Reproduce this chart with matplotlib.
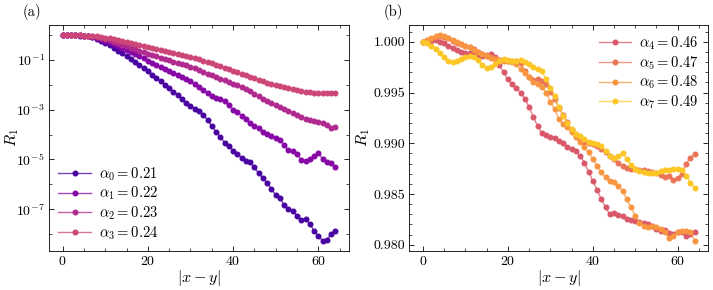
import numpy as np
import matplotlib
matplotlib.use("Agg")
import matplotlib.pyplot as plt
from matplotlib.ticker import FixedLocator, MultipleLocator, FormatStrFormatter, NullFormatter

plt.rcParams['font.family'] = 'serif'
plt.rcParams['font.serif'] = ['cmr10', 'DejaVu Serif']
plt.rcParams['mathtext.fontset'] = 'cm'
plt.rcParams['axes.formatter.use_mathtext'] = True
plt.rcParams['axes.unicode_minus'] = False

x = np.arange(65)

# panel (a): log10 of R_1
alpha_a = [0.21, 0.22, 0.23, 0.24]
log_a0 = [0, 0, 0, -0.005, -0.01, -0.02, -0.04, -0.08, -0.14, -0.22, -0.31, -0.41, -0.52, -0.62, -0.73,
          -0.85, -0.96, -1.08, -1.2, -1.32, -1.45, -1.58, -1.72, -1.85, -2.0, -2.14, -2.27, -2.4, -2.58, -2.74,
          -2.85, -2.95, -3.05, -3.19, -3.41, -3.65, -3.88, -4.09, -4.32, -4.45, -4.64, -4.79, -4.92, -5.05, -5.12,
          -5.32, -5.56, -5.75, -5.95, -6.19, -6.43, -6.56, -6.83, -7.0, -7.08, -7.26, -7.42, -7.39, -7.59, -7.86,
          -8.08, -8.27, -8.24, -7.99, -7.86]
log_a1 = [0, 0, 0, 0, -0.005, -0.01, -0.03, -0.06, -0.1, -0.15, -0.22, -0.29, -0.37, -0.45, -0.53,
          -0.61, -0.69, -0.77, -0.85, -0.93, -1.02, -1.1, -1.18, -1.26, -1.34, -1.42, -1.5, -1.58, -1.66, -1.76,
          -1.86, -1.97, -2.08, -2.2, -2.33, -2.45, -2.52, -2.56, -2.65, -2.82, -3.0, -3.1, -3.23, -3.36, -3.52,
          -3.66, -3.75, -3.9, -3.99, -4.06, -4.12, -4.22, -4.43, -4.62, -4.66, -4.79, -5.02, -5.08, -4.99, -4.86,
          -4.72, -4.99, -5.12, -5.16, -5.32]
log_a2 = [0, 0, 0, 0, -0.005, -0.01, -0.02, -0.04, -0.07, -0.1, -0.15, -0.2, -0.26, -0.32, -0.38,
          -0.44, -0.5, -0.56, -0.62, -0.68, -0.74, -0.79, -0.85, -0.9, -0.96, -1.01, -1.06, -1.11, -1.16, -1.21,
          -1.27, -1.33, -1.4, -1.47, -1.54, -1.6, -1.67, -1.74, -1.81, -1.88, -1.95, -2.02, -2.09, -2.17, -2.26,
          -2.36, -2.46, -2.55, -2.64, -2.72, -2.8, -2.88, -2.96, -3.05, -3.14, -3.22, -3.3, -3.37, -3.43, -3.47,
          -3.5, -3.55, -3.63, -3.72, -3.7]
log_a3 = [0, 0, 0, 0, -0.005, -0.01, -0.015, -0.02, -0.04, -0.06, -0.09, -0.12, -0.15, -0.18, -0.22,
          -0.26, -0.3, -0.34, -0.38, -0.42, -0.46, -0.5, -0.54, -0.58, -0.62, -0.66, -0.7, -0.74, -0.78, -0.82,
          -0.87, -0.92, -0.97, -1.02, -1.08, -1.13, -1.19, -1.25, -1.31, -1.37, -1.43, -1.49, -1.55, -1.61, -1.67,
          -1.73, -1.79, -1.85, -1.91, -1.96, -2.01, -2.06, -2.1, -2.14, -2.18, -2.21, -2.24, -2.27, -2.29, -2.31,
          -2.32, -2.33, -2.33, -2.32, -2.32]

# panel (b): 1000*(1 - R_1)
alpha_b = [0.46, 0.47, 0.48, 0.49]
d_b4 = [0, 0.0, -0.1, -0.15, 0.0, 0.15, 0.4, 0.65, 0.8, 0.95, 1.05, 1.1, 1.2, 1.3, 1.35,
        1.35, 1.2, 1.5, 2.3, 3.0, 3.7, 4.2, 4.5, 5.0, 5.6, 6.4, 7.4, 8.3, 9.0, 9.2,
        9.35, 9.5, 9.75, 10.0, 10.4, 10.6, 10.75, 11.2, 11.9, 12.8, 13.7, 14.6, 15.5, 16.3, 17.0,
        16.9, 17.1, 17.2, 17.5, 17.6, 17.7, 17.8, 17.85, 17.95, 18.1, 18.4, 18.6, 18.5, 18.85, 18.9,
        18.75, 18.75, 19.1, 18.9, 18.7]
d_b5 = [0, -0.15, -0.3, -0.5, -0.6, -0.5, -0.35, -0.1, 0.1, 0.25, 0.4, 0.55, 0.75, 0.95, 1.15,
        1.3, 1.45, 1.6, 1.75, 1.8, 1.85, 1.85, 1.85, 2.1, 2.85, 3.5, 3.8, 3.7, 3.85, 4.2,
        4.9, 5.6, 6.5, 7.2, 7.9, 8.7, 9.3, 9.7, 9.9, 10.0, 10.1, 10.25, 10.6, 10.9, 11.2,
        11.5, 11.9, 12.2, 12.4, 12.5, 12.55, 12.6, 12.65, 12.75, 12.85, 12.95, 13.15, 13.3, 13.25, 13.6,
        13.45, 13.0, 12.0, 11.4, 11.1]
d_b6 = [0, -0.2, -0.4, -0.55, -0.65, -0.55, -0.4, -0.2, 0.0, 0.2, 0.4, 0.55, 0.8, 1.0, 1.2,
        1.35, 1.55, 1.65, 1.75, 1.85, 1.9, 1.95, 2.2, 2.7, 3.1, 3.5, 4.0, 4.2, 4.4, 5.0,
        5.9, 6.6, 7.6, 8.1, 8.4, 8.9, 9.4, 9.9, 10.4, 10.9, 11.5, 12.2, 12.85, 13.35, 13.7,
        13.85, 14.2, 14.7, 15.5, 16.3, 17.15, 17.85, 18.1, 18.2, 18.1, 18.2, 18.45, 18.75, 19.35, 19.15,
        18.75, 18.65, 18.65, 18.75, 19.6]
d_b7 = [0, 0.15, 0.4, 0.7, 1.1, 1.5, 1.85, 2.0, 1.9, 1.7, 1.5, 1.42, 1.45, 1.8, 2.3,
        2.55, 2.5, 2.2, 1.9, 1.72, 1.78, 1.85, 1.85, 1.8, 2.0, 2.2, 2.5, 2.7, 2.85, 3.7,
        4.5, 5.3, 6.4, 7.3, 8.0, 8.6, 9.1, 9.3, 9.6, 9.85, 10.0, 10.1, 10.3, 10.8, 11.2,
        11.4, 11.2, 11.0, 11.5, 12.1, 12.5, 12.75, 12.85, 12.9, 12.95, 12.95, 12.7, 12.6, 12.6, 12.5,
        12.5, 12.65, 13.2, 13.9, 14.4]

cmap = plt.get_cmap('plasma')
cvals = [0.12, 0.28, 0.4, 0.5, 0.56, 0.65, 0.75, 0.88]
colors = [cmap(v) for v in cvals]

fig = plt.figure(figsize=(7.13, 2.9), dpi=100)
axA = fig.add_axes([49/713, 39/290, 300/713, 226/290])
axB = fig.add_axes([409.3/713, 39/290, 299/713, 226/290])

def style(ax):
    ax.tick_params(which='both', direction='in', top=True, right=True, labelsize=10, pad=3)
    ax.tick_params(which='major', length=3.5, width=0.6)
    ax.tick_params(which='minor', length=2, width=0.5)
    for s in ax.spines.values():
        s.set_linewidth(0.6)
    ax.xaxis.set_major_locator(MultipleLocator(20))
    ax.xaxis.set_minor_locator(MultipleLocator(5))

for i, (a, lg) in enumerate(zip(alpha_a, [log_a0, log_a1, log_a2, log_a3])):
    c = colors[i]
    axA.plot(x, 10.0 ** np.array(lg), '-o', color=(c[0], c[1], c[2], 0.75), mfc=c, mec=c,
             ms=3.3, lw=1.0, label=r'$\alpha_{%d} = %.2f$' % (i, a))
axA.set_yscale('log')
style(axA)
axA.yaxis.set_major_locator(FixedLocator([1e-7, 1e-5, 1e-3, 1e-1]))
axA.yaxis.set_minor_locator(FixedLocator([1e-8, 1e-6, 1e-4, 1e-2, 1e0]))
axA.yaxis.set_minor_formatter(NullFormatter())
axA.set_xlabel(r'$|x-y|$', fontsize=11.5)
axA.set_ylabel(r'$R_1$', fontsize=11.5)
axA.yaxis.set_label_coords(-0.093, 0.5)
axA.xaxis.set_label_coords(0.5, -0.075)
axA.legend(loc='lower left', frameon=False, fontsize=10.5, handlelength=2.2, handletextpad=0.6,
           labelspacing=0.15, borderaxespad=0.25)
axA.text(-0.087, 1.057, '(a)', transform=axA.transAxes, fontsize=10.5, va='center', ha='left')

for j, (a, d) in enumerate(zip(alpha_b, [d_b4, d_b5, d_b6, d_b7])):
    c = colors[4 + j]
    axB.plot(x, 1 - np.array(d) / 1000.0, '-o', color=(c[0], c[1], c[2], 0.75), mfc=c, mec=c,
             ms=3.3, lw=1.0, label=r'$\alpha_{%d} = %.2f$' % (4 + j, a))
style(axB)
axB.yaxis.set_major_locator(MultipleLocator(0.005))
axB.yaxis.set_minor_locator(MultipleLocator(0.001))
axB.yaxis.set_major_formatter(FormatStrFormatter('%.3f'))
axB.set_xlabel(r'$|x-y|$', fontsize=11.5)
axB.set_ylabel(r'$R_1$', fontsize=11.5)
axB.yaxis.set_label_coords(-0.125, 0.5)
axB.xaxis.set_label_coords(0.5, -0.075)
axB.legend(loc='upper right', frameon=False, fontsize=10.5, handlelength=2.2, handletextpad=0.6,
           labelspacing=0.15, borderaxespad=0.25)
axB.text(-0.087, 1.057, '(b)', transform=axB.transAxes, fontsize=10.5, va='center', ha='left')

fig.savefig('out.png', dpi=100)
